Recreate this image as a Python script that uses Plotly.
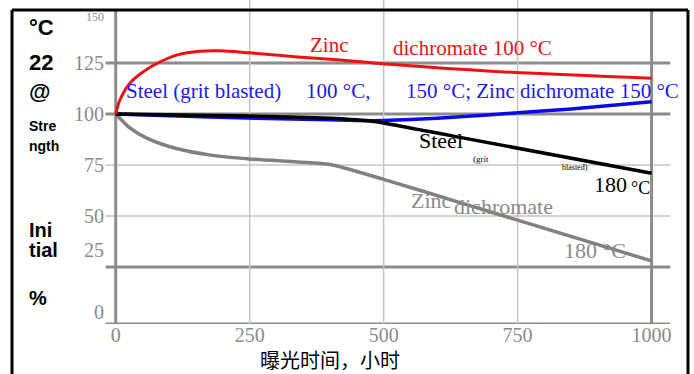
import plotly.graph_objects as go

# Exposure time (hours) and retained strength (% of initial @ 22 °C)
zinc100_h = [0, 8, 26, 50, 82, 115, 157, 195, 250, 340, 420, 530, 700, 1000]
zinc100_v = [100, 107, 115, 120.5, 125.5, 129, 130.8, 131, 130, 128, 126.5, 124, 121, 117.5]

steel_h = [0, 175, 350, 450, 500, 600, 700, 850, 1000]
steel_v = [100, 98.5, 97.5, 96.8, 96.8, 98, 99.7, 102.5, 106]

steel180_h = [0, 250, 400, 480, 660, 1000]
steel180_v = [100, 99, 98, 96.5, 87.7, 71]

zinc180_h = [0, 25, 60, 115, 175, 250, 340, 400, 500, 650, 750, 1000]
zinc180_v = [100, 93.5, 88, 83, 80, 78, 76.5, 75.3, 68, 56, 48, 28]

x_ticks = [0, 250, 500, 750, 1000]
y_ticks = [0, 25, 50, 75, 100, 125, 150]
major_y = [125, 100, 25]
minor_y = [75, 50]
minor_x = [250, 500, 750]

SERIF = "Liberation Serif"
SANS = "Liberation Sans"
GRID_DARK = "#8c8c8c"
GRID_LIGHT = "#c4c4c4"
LABEL_GRAY = "#8a8a8a"

L, R, T, B = 105, 21, 0, 50
W, H = 694, 374
PW, PH = W - L - R, H - T - B


def px(xp):
    return (xp - L) / PW


def py(yp):
    return 1 - (yp - T) / PH


fig = go.Figure()

fig.add_trace(go.Scatter(x=zinc180_h, y=zinc180_v, mode="lines",
                         line=dict(color="#808080", width=3.5, shape="spline", smoothing=0.7)))
fig.add_trace(go.Scatter(x=steel_h, y=steel_v, mode="lines",
                         line=dict(color="#0a0ae6", width=3.5, shape="spline", smoothing=0.5)))
fig.add_trace(go.Scatter(x=steel180_h, y=steel180_v, mode="lines",
                         line=dict(color="#000000", width=3.5, shape="spline", smoothing=0.4)))
fig.add_trace(go.Scatter(x=zinc100_h, y=zinc100_v, mode="lines",
                         line=dict(color="#ee1111", width=3, shape="spline", smoothing=1.0)))

shapes = []
# horizontal grid
for v in major_y:
    shapes.append(dict(type="line", xref="x", yref="y", x0=-19, x1=1035, y0=v, y1=v,
                       line=dict(color=GRID_DARK, width=3), layer="below"))
for v in minor_y:
    shapes.append(dict(type="line", xref="x", yref="y", x0=-19, x1=1035, y0=v, y1=v,
                       line=dict(color=GRID_LIGHT, width=1.5), layer="below"))
# x axis line
shapes.append(dict(type="line", xref="x", yref="y", x0=-19, x1=1035, y0=-2.9, y1=-2.9,
                   line=dict(color=GRID_DARK, width=3), layer="below"))
# vertical grid
for h in minor_x:
    shapes.append(dict(type="line", xref="x", yref="y", x0=h, x1=h, y0=-2.9, y1=155.9,
                       line=dict(color=GRID_LIGHT, width=1.5), layer="below"))
for h in (0, 1000):
    shapes.append(dict(type="line", xref="x", yref="y", x0=h, x1=h, y0=-2.9, y1=151,
                       line=dict(color=GRID_DARK, width=3), layer="below"))
# outer frame
fy_top = py(10)
fy_bot = py(390)
shapes += [
    dict(type="line", xref="paper", yref="paper", x0=px(12), x1=px(688), y0=fy_top, y1=fy_top,
         line=dict(color="black", width=3)),
    dict(type="line", xref="paper", yref="paper", x0=px(12), x1=px(12), y0=fy_top, y1=fy_bot,
         line=dict(color="black", width=3)),
    dict(type="line", xref="paper", yref="paper", x0=px(688), x1=px(688), y0=fy_top, y1=fy_bot,
         line=dict(color="black", width=3)),
]

ann = []
# y tick labels
y_shift = {150: -5, 25: 17, 0: 6}
for v in y_ticks:
    ann.append(dict(x=0, xref="paper", y=v, yref="y", text=str(v), showarrow=False,
                    xanchor="right", yanchor="middle", xshift=1, yshift=y_shift.get(v, 0),
                    font=dict(family=SERIF, size=12 if v == 150 else 20, color=LABEL_GRAY)))

# stacked y title
ytitle = [("°C", 28, 22), ("22", 63, 22), ("@", 91, 22), ("Stre", 126, 14), ("ngth", 146, 14),
          ("Ini", 230, 20), ("tial", 250, 20), ("%", 298, 20)]
for txt, yp, sz in ytitle:
    ann.append(dict(x=px(27), xref="paper", y=py(yp), yref="paper", text="<b>%s</b>" % txt,
                    showarrow=False, xanchor="left", yanchor="middle",
                    font=dict(family=SANS, size=sz, color="black")))

# x title
ann.append(dict(x=px(330), xref="paper", y=py(359), yref="paper", text="曝光时间，小时",
                showarrow=False, xanchor="center", yanchor="middle",
                font=dict(family="Noto Sans CJK SC", size=20, color="black")))


def lab(text, xp, yp, color, size, anchor="left"):
    ann.append(dict(x=px(xp), xref="paper", y=py(yp), yref="paper", text=text, showarrow=False,
                    xanchor=anchor, yanchor="middle", font=dict(family=SERIF, size=size, color=color)))


RED, BLUE = "#ee1111", "#1a1aee"
lab("Zinc", 308, 45, RED, 21)
lab("dichromate 100 °C", 391, 48, RED, 21)
lab("Steel (grit blasted)", 124, 91, BLUE, 21)
lab("100 °C,", 304, 91, BLUE, 21)
lab("150 °C; Zinc dichromate 150 °C", 404, 91, BLUE, 21)
lab("Steel", 417, 141, "black", 22)
lab("(grit", 471, 159, "black", 9)
lab("blasted)", 560, 167, "black", 8)
lab("180", 592, 184, "black", 22)
lab("°C", 629, 188, "black", 18)
lab("Zinc", 409, 200, LABEL_GRAY, 22)
lab("dichromate", 452, 207, LABEL_GRAY, 22)
lab("180 °C", 562, 250, LABEL_GRAY, 22)

fig.update_layout(
    width=W, height=H, margin=dict(l=L, r=R, t=T, b=B),
    paper_bgcolor="white", plot_bgcolor="white", showlegend=False,
    xaxis=dict(range=[-20, 1040], tickvals=x_ticks, showgrid=False, zeroline=False,
               showline=False, ticks="", ticklabelstandoff=-3,
               tickfont=dict(family=SERIF, size=20, color=LABEL_GRAY)),
    yaxis=dict(range=[-2.9, 155.9], showgrid=False, zeroline=False, showline=False,
               showticklabels=False, ticks=""),
    shapes=shapes, annotations=ann,
)

fig.write_html("out.html")
